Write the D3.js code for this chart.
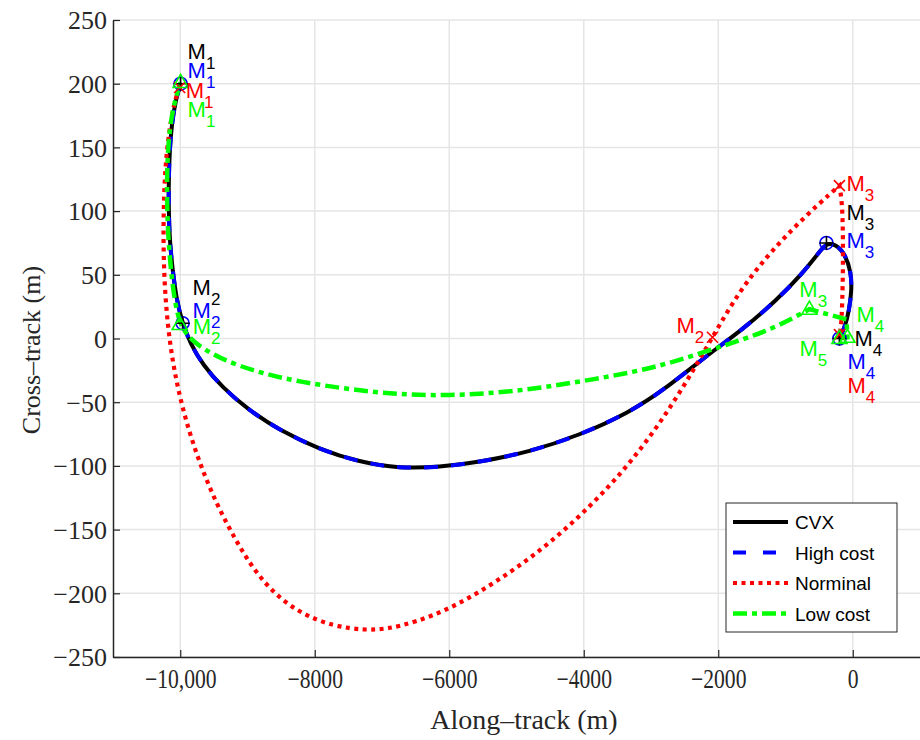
<!DOCTYPE html>
<html>
<head>
<meta charset="utf-8">
<script src="https://cdn.jsdelivr.net/npm/d3@7"></script>
<style>
  body { margin: 0; background: #fff; }
  svg text { fill: #262626; }
</style>
</head>
<body>
<div id="chart"></div>
<script>
// tick values and labels
var xTicks = [-10000, -8000, -6000, -4000, -2000, 0];
var xTickLabels = ["\u221210,000", "\u22128000", "\u22126000", "\u22124000", "\u22122000", "0"];
var yTicks = [-250, -200, -150, -100, -50, 0, 50, 100, 150, 200, 250];
var yTickLabels = ["\u2212250", "\u2212200", "\u2212150", "\u2212100", "\u221250", "0", "50", "100", "150", "200", "250"];

// trajectories [along-track, cross-track] in metres
var cvx = [[-9995,200],[-10069,187],[-10127,168],[-10157,148],[-10172,124],[-10172,101],[-10157,77],
  [-10114,54],[-10054,30],[-9965,12],[-9850,-4],[-9660,-21],[-9380,-38],[-8990,-56],[-8524,-72],
  [-7930,-87],[-7335,-97],[-6740,-102],[-6145,-101],[-5550,-97],[-4807,-89],[-4064,-76],[-3320,-58],
  [-2800,-40],[-2235,-16],[-1640,7],[-1134,30],[-748,51],[-495,68],[-391,75],[-250,74],[-110,66],
  [-25,52],[-15,38],[-55,22],[-110,10],[-198,0]];
var highCost = [[-9995,200],[-10069,187],[-10127,168],[-10157,148],[-10172,124],[-10172,101],[-10157,77],
  [-10114,54],[-10054,30],[-9965,12],[-9850,-4],[-9660,-21],[-9380,-38],[-8990,-56],[-8524,-72],
  [-7930,-87],[-7335,-97],[-6740,-102],[-6145,-101],[-5550,-97],[-4807,-89],[-4064,-76],[-3320,-58],
  [-2800,-40],[-2235,-16],[-1640,7],[-1134,30],[-748,51],[-495,68],[-391,75],[-250,74],[-110,66],
  [-25,52],[-15,38],[-55,22],[-110,10],[-198,0]];
var nominal = [[-10009,197],[-10090,186],[-10187,156],[-10235,124],[-10250,93],[-10248,62],[-10220,30],
  [-10160,-2],[-10060,-34],[-9910,-66],[-9712,-98],[-9460,-130],[-9180,-158],[-8880,-184],[-8476,-207],
  [-7970,-222],[-7480,-228],[-7078,-229],[-6736,-226],[-6245,-218],[-5740,-205],[-5249,-189],
  [-4758,-171],[-4253,-149],[-3760,-124],[-3300,-97],[-2860,-66],[-2460,-33],[-2086,1],[-1700,36],
  [-1300,63],[-897,86],[-500,106],[-198,120],[-156,106],[-145,80],[-145,54],[-156,28],[-170,10],[-198,3]];
var lowCost = [[-9995,201],[-10120,180],[-10186,150],[-10201,118],[-10186,85],[-10142,54],[-10083,30],[-10009,11],
  [-9840,-2],[-9415,-16],[-8820,-27],[-8225,-34],[-7481,-40],[-6738,-44],[-6038,-45],[-5057,-42],
  [-4060,-34],[-3000,-24],[-2235,-11],[-1640,-1],[-1134,9],[-645,23],[-94,15],[-79,1],[-198,0]];

// manoeuvre points
var cvxMarks = [[-9995,200],[-9965,12],[-391,75],[-198,0]];
var highMarks = [[-9995,200],[-9965,12],[-391,75],[-198,0]];
var nomMarks = [[-10009,197],[-2086,1],[-198,120],[-198,3]];
var lowMarks = [[-9995,201],[-10009,11],[-645,23],[-79,1],[-198,0]];

// points where a trajectory turns sharply
var nomCorners = [[-198,120]];
var lowCorners = [[-645,23],[-94,15],[-79,1]];

var legendNames = ["CVX", "High cost", "Norminal", "Low cost"];

var width = 920, height = 740;
var svg = d3.select("#chart").append("svg").attr("width", width).attr("height", height);

var x = d3.scaleLinear().domain([-11000, 1000]).range([113, 920]);
var y = d3.scaleLinear().domain([-250, 250]).range([657, 20]);

// grid
svg.append("g").selectAll("line").data(xTicks).enter().append("line")
  .attr("x1", d => x(d)).attr("x2", d => x(d)).attr("y1", y(-250)).attr("y2", y(250))
  .attr("stroke", "#e5e5e5").attr("stroke-width", 1.5);
svg.append("g").selectAll("line").data(yTicks).enter().append("line")
  .attr("x1", x(-11000)).attr("x2", x(1000)).attr("y1", d => y(d)).attr("y2", d => y(d))
  .attr("stroke", "#e5e5e5").attr("stroke-width", 1.5);

// axes
var xAxis = d3.axisBottom(x).tickValues(xTicks).tickSizeInner(-7).tickSizeOuter(0)
  .tickFormat((d, i) => xTickLabels[i]).tickPadding(12);
var yAxis = d3.axisLeft(y).tickValues(yTicks).tickSizeInner(-7).tickSizeOuter(0)
  .tickFormat((d, i) => yTickLabels[i]).tickPadding(6);

var gx = svg.append("g").attr("transform", "translate(0," + y(-250) + ")").call(xAxis);
var gy = svg.append("g").attr("transform", "translate(" + x(-11000) + ",0)").call(yAxis);
[gx, gy].forEach(function(g){
  g.select(".domain").attr("stroke", "#262626").attr("stroke-width", 1.5);
  g.selectAll(".tick line").attr("stroke", "#262626").attr("stroke-width", 1.2);
  g.selectAll(".tick text").attr("fill", "#262626")
    .style("font-family", "'Liberation Serif', serif");
});
gy.selectAll(".tick text").style("font-size", "26px").attr("dy", "0.34em");
// x tick labels are drawn tall and narrow
gx.selectAll(".tick text").style("font-size", "27px")
  .attr("dy", null).attr("y", 0)
  .attr("transform", "translate(0,31) scale(0.8,1)");

svg.append("text").attr("x", 524).attr("y", 729).attr("text-anchor", "middle")
  .style("font-family", "'Liberation Serif', serif").style("font-size", "28px")
  .text("Along\u2013track (m)");
svg.append("text").attr("transform", "translate(40,350) rotate(-90)").attr("text-anchor", "middle")
  .style("font-family", "'Liberation Serif', serif").style("font-size", "26px")
  .text("Cross\u2013track (m)");

// path builder: smoothed curve, broken at sharp turning points
function buildPath(pts, corners){
  var line = d3.line().x(d => x(d[0])).y(d => y(d[1])).curve(d3.curveBasis);
  var segs = [], cur = [];
  pts.forEach(function(p, i){
    cur.push(p);
    var isCorner = corners.some(m => m[0] === p[0] && m[1] === p[1]);
    if (isCorner && i > 0 && i < pts.length - 1){ segs.push(cur); cur = [p]; }
  });
  if (cur.length > 1) segs.push(cur);
  return segs.map(function(s, i){
    var d = line(s);
    return i === 0 ? d : d.replace(/^M/, "L");
  }).join("");
}

var series = [
  {name: legendNames[0], pts: cvx, marks: cvxMarks, corners: [], color: "#000000", width: 4, dash: null},
  {name: legendNames[1], pts: highCost, marks: highMarks, corners: [], color: "#0000ff", width: 4, dash: "14,13"},
  {name: legendNames[2], pts: nominal, marks: nomMarks, corners: nomCorners, color: "#ff0000", width: 4.2, dash: "4,4.5"},
  {name: legendNames[3], pts: lowCost, marks: lowMarks, corners: lowCorners, color: "#00ff00", width: 4.5, dash: "14,5,5,5"}
];

svg.append("g").selectAll("path").data(series).enter().append("path")
  .attr("d", d => buildPath(d.pts, d.corners))
  .attr("fill", "none").attr("stroke", d => d.color).attr("stroke-width", d => d.width)
  .attr("stroke-dasharray", d => d.dash);

// markers
var mk = svg.append("g").attr("fill", "none").attr("stroke-width", 1.6);
mk.selectAll(".circ").data(highMarks).enter().append("circle").attr("class", "circ")
  .attr("cx", d => x(d[0])).attr("cy", d => y(d[1])).attr("r", 6.5).attr("stroke", "#0000ff");
mk.selectAll(".plus").data(cvxMarks).enter().append("path").attr("class", "plus")
  .attr("d", d => { var px = x(d[0]), py = y(d[1]); return "M" + (px - 7) + "," + py + "h14M" + px + "," + (py - 7) + "v14"; })
  .attr("stroke", "#000");
mk.selectAll(".cross").data(nomMarks).enter().append("path").attr("class", "cross")
  .attr("d", d => { var px = x(d[0]), py = y(d[1]); return "M" + (px - 5.5) + "," + (py - 5.5) + "l11,11M" + (px - 5.5) + "," + (py + 5.5) + "l11,-11"; })
  .attr("stroke", "#ff0000");
mk.selectAll(".tri").data(lowMarks).enter().append("path").attr("class", "tri")
  .attr("d", d => { var px = x(d[0]), py = y(d[1]); return "M" + px + "," + (py - 8) + "L" + (px + 7.5) + "," + (py + 5) + "L" + (px - 7.5) + "," + (py + 5) + "Z"; })
  .attr("stroke", "#00ff00");

// labels: offsets (px) from each manoeuvre point
var labelOffsets = [
  [[7,-25],[10,-28],[20,-23],[15,7]],
  [[7,-6],[10,-5],[20,5],[8,30]],
  [[6,10],[-36,-4],[7,5],[8,58]],
  [[7,35],[13,10],[-10,-12],[9,-15],[-40,17]]
];
series.forEach(function(s, si){
  s.marks.forEach(function(m, mi){
    var o = labelOffsets[si][mi];
    var t = svg.append("text").attr("x", x(m[0]) + o[0]).attr("y", y(m[1]) + o[1])
      .style("font-family", "'Liberation Sans', Arial, sans-serif").style("font-size", "22px")
      .style("fill", s.color);
    t.append("tspan").text("M");
    t.append("tspan").attr("dy", 10).style("font-size", "17px").text(mi + 1);
  });
});

// legend
var lg = svg.append("g").attr("transform", "translate(726,503)");
lg.append("rect").attr("width", 171).attr("height", 129).attr("fill", "#fff")
  .attr("stroke", "#262626").attr("stroke-width", 1);
var rows = lg.selectAll(".row").data(series).enter().append("g")
  .attr("transform", (d, i) => "translate(0," + (19 + i * 30.5) + ")");
rows.append("line").attr("x1", 7).attr("x2", 62).attr("y1", 0).attr("y2", 0)
  .attr("stroke", d => d.color).attr("stroke-width", d => d.width)
  .attr("stroke-dasharray", d => d.name === "High cost" ? "13,17" : d.dash);
rows.append("text").attr("x", 69).attr("y", 7)
  .style("font-family", "'Liberation Sans', Arial, sans-serif").style("font-size", "19px")
  .style("fill", "#000").text(d => d.name);
</script>
</body>
</html>
